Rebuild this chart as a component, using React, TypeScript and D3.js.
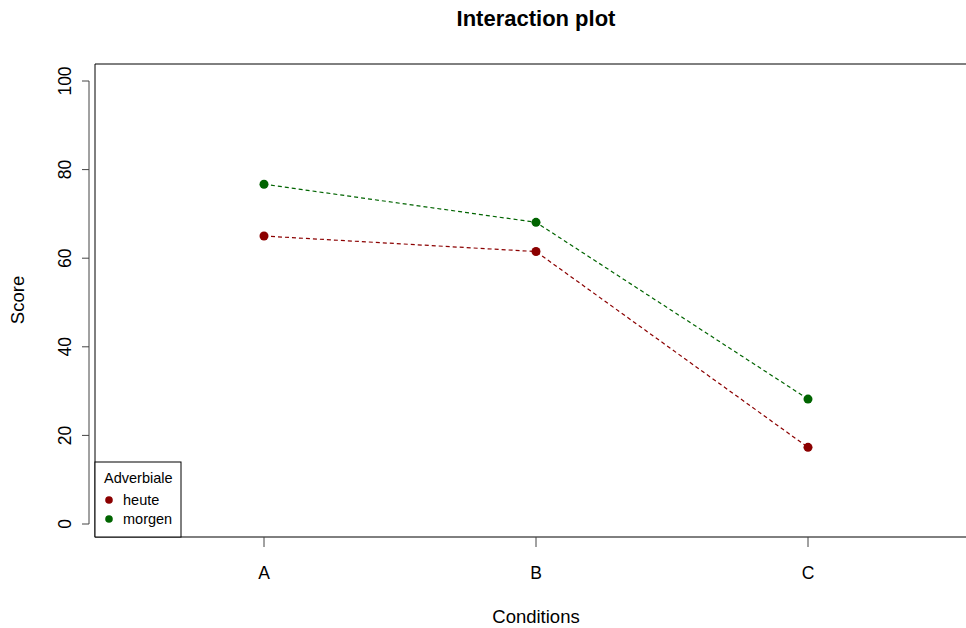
import React from 'react'
import * as d3 from 'd3'

const conditions = ['A', 'B', 'C']
const heute = [65, 61.5, 17.3]
const morgen = [76.7, 68.1, 28.2]
const yTicks = [0, 20, 40, 60, 80, 100]

const series = [
  { name: 'heute', values: heute, color: '#8b0000' },
  { name: 'morgen', values: morgen, color: '#006400' },
]

const W = 966
const H = 628
const font = 'Liberation Sans, Arial, sans-serif'

const App = () => {
  const x = d3.scalePoint<string>().domain(conditions).range([264, 808])
  const y = d3.scaleLinear().domain([0, 100]).range([524, 81])
  const line = d3.line<number>()
    .x((_, i) => x(conditions[i]) as number)
    .y(v => y(v))

  const boxL = 95, boxT = 64, boxB = 537

  return (
    <svg width={W} height={H} style={{ position: 'absolute', left: 0, top: 0 }} fontFamily={font}>
      <rect width={W} height={H} fill="white" />
      <text x={536} y={26} textAnchor="middle" fontSize={22} fontWeight="bold">Interaction plot</text>

      {/* plot frame: top, left, bottom */}
      <path d={`M${W},${boxT}H${boxL}V${boxB}H${W}`} fill="none" stroke="black" strokeWidth={1} />

      {/* y axis */}
      <line x1={89} x2={89} y1={y(0)} y2={y(100)} stroke="#444" />
      {yTicks.map(t => (
        <g key={t}>
          <line x1={82} x2={89} y1={y(t)} y2={y(t)} stroke="#444" />
          <text transform={`translate(71,${y(t)}) rotate(-90)`} textAnchor="middle" fontSize={17.5}>{t}</text>
        </g>
      ))}

      {/* x axis ticks */}
      {conditions.map(c => (
        <g key={c}>
          <line x1={x(c)} x2={x(c)} y1={boxB} y2={boxB + 10} stroke="#444" />
          <text x={x(c)} y={579} textAnchor="middle" fontSize={17.5}>{c}</text>
        </g>
      ))}

      <text x={536} y={623} textAnchor="middle" fontSize={18.5}>Conditions</text>
      <text transform="translate(24,300) rotate(-90)" textAnchor="middle" fontSize={18.5}>Score</text>

      {series.map(s => (
        <g key={s.name}>
          <path d={line(s.values) as string} fill="none" stroke={s.color} strokeWidth={1.2} strokeDasharray="4,3" />
          {s.values.map((v, i) => (
            <circle key={i} cx={x(conditions[i])} cy={y(v)} r={4.5} fill={s.color} />
          ))}
        </g>
      ))}

      {/* legend */}
      <g>
        <rect x={boxL} y={462} width={86} height={75} fill="white" stroke="black" />
        <text x={104} y={483} fontSize={14.5}>Adverbiale</text>
        {series.map((s, i) => (
          <g key={s.name}>
            <circle cx={109} cy={500 + i * 19} r={3.8} fill={s.color} />
            <text x={123} y={505 + i * 19} fontSize={14.5}>{s.name}</text>
          </g>
        ))}
      </g>
    </svg>
  )
}

export default App
